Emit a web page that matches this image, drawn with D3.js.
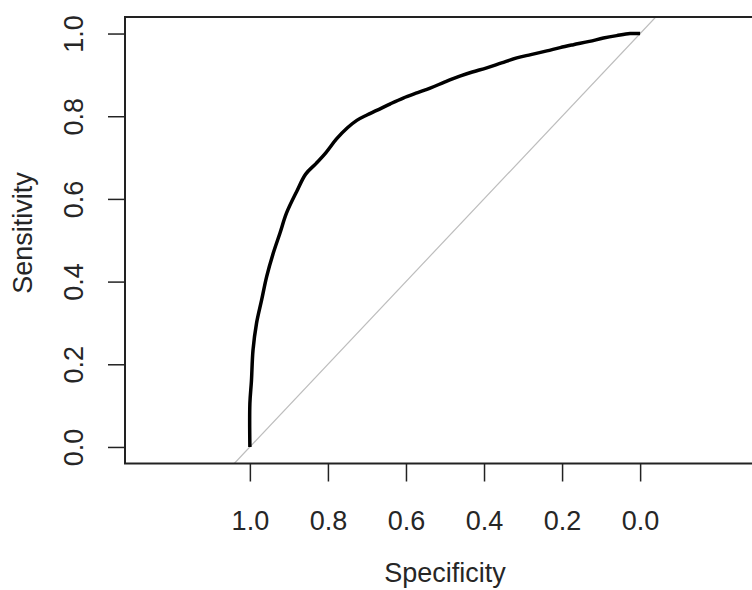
<!DOCTYPE html>
<html>
<head>
<meta charset="utf-8">
<script src="https://cdn.jsdelivr.net/npm/d3@7"></script>
<style>
  body { margin: 0; background: #fff; }
  svg text { font-family: "Liberation Sans", Arial, sans-serif; fill: #262626; }
</style>
</head>
<body>
<div id="chart"></div>
<script>
// ROC curve points (specificity, sensitivity)
const specificity = [1.000, 1.000, 0.996, 0.992, 0.983, 0.970, 0.957, 0.940, 0.923, 0.906,
  0.880, 0.857, 0.830, 0.805, 0.778, 0.750, 0.726, 0.700, 0.675, 0.640,
  0.607, 0.570, 0.538, 0.500, 0.462, 0.430, 0.393, 0.355, 0.316, 0.280,
  0.239, 0.205, 0.171, 0.130, 0.094, 0.060, 0.026, 0.000];
const sensitivity = [0.000, 0.105, 0.160, 0.234, 0.299, 0.355, 0.412, 0.469, 0.517, 0.566,
  0.618, 0.660, 0.686, 0.712, 0.745, 0.772, 0.790, 0.803, 0.814, 0.830,
  0.844, 0.857, 0.868, 0.883, 0.897, 0.907, 0.917, 0.929, 0.941, 0.949,
  0.958, 0.966, 0.973, 0.981, 0.989, 0.995, 1.000, 1.000];
const tickValues = [1.0, 0.8, 0.6, 0.4, 0.2, 0.0];
const xLabel = 'Specificity';
const yLabel = 'Sensitivity';

const W = 752, H = 590;
const box = { left: 125, right: 765, top: 17, bottom: 463.5 };
const FONT = 27;

const svg = d3.select('#chart').append('svg')
  .attr('width', W)
  .attr('height', H);

// reversed specificity axis, padded like R does with asp = 1
const x = d3.scaleLinear().domain([1.32, -0.32]).range([box.left, box.right]);
const y = d3.scaleLinear().domain([-0.04, 1.04]).range([box.bottom, box.top]);

svg.append('defs').append('clipPath').attr('id', 'clip')
  .append('rect')
  .attr('x', box.left).attr('y', box.top)
  .attr('width', box.right - box.left).attr('height', box.bottom - box.top);

// chance diagonal, clipped to the plot region
const yd = y.domain();
svg.append('line')
  .attr('clip-path', 'url(#clip)')
  .attr('x1', x(1 - yd[0])).attr('y1', y(yd[0]))
  .attr('x2', x(1 - yd[1])).attr('y2', y(yd[1]))
  .attr('stroke', '#bdbdbd')
  .attr('stroke-width', 1.2);

// ROC curve
const pts = specificity.map((s, i) => [s, sensitivity[i]]);
svg.append('path')
  .datum(pts)
  .attr('fill', 'none')
  .attr('stroke', '#000')
  .attr('stroke-width', 3.5)
  .attr('stroke-linejoin', 'round')
  .attr('d', d3.line().curve(d3.curveCatmullRom.alpha(0.5)).x(d => x(d[0])).y(d => y(d[1])));

// plot frame
svg.append('rect')
  .attr('x', box.left).attr('y', box.top)
  .attr('width', box.right - box.left).attr('height', box.bottom - box.top)
  .attr('fill', 'none')
  .attr('stroke', '#222')
  .attr('stroke-width', 2);

// x axis
const gx = svg.append('g')
  .attr('transform', `translate(0,${box.bottom})`)
  .call(d3.axisBottom(x).tickValues(tickValues).tickSize(18).tickFormat(d3.format('.1f')));
gx.select('.domain').remove();
gx.selectAll('line').attr('stroke', '#222').attr('stroke-width', 1.5);
gx.selectAll('text')
  .attr('y', 530 - box.bottom)
  .attr('dy', 0)
  .attr('fill', '#262626')
  .style('font-size', FONT + 'px')
  .style('font-family', '"Liberation Sans", Arial, sans-serif');

// y axis
const gy = svg.append('g')
  .attr('transform', `translate(${box.left},0)`)
  .call(d3.axisLeft(y).tickValues(tickValues).tickSize(17).tickFormat(d3.format('.1f')));
gy.select('.domain').remove();
gy.selectAll('line').attr('stroke', '#222').attr('stroke-width', 1.5);
gy.selectAll('text')
  .attr('x', 0)
  .attr('dy', 0)
  .attr('transform', `translate(${83 - box.left},0) rotate(-90)`)
  .attr('text-anchor', 'middle')
  .attr('fill', '#262626')
  .style('font-size', FONT + 'px')
  .style('font-family', '"Liberation Sans", Arial, sans-serif');

// axis titles
svg.append('text')
  .attr('x', (box.left + box.right) / 2)
  .attr('y', 582)
  .attr('text-anchor', 'middle')
  .style('font-size', FONT + 'px')
  .text(xLabel);

svg.append('text')
  .attr('transform', 'translate(31.5,233) rotate(-90)')
  .attr('text-anchor', 'middle')
  .style('font-size', FONT + 'px')
  .text(yLabel);
</script>
</body>
</html>
